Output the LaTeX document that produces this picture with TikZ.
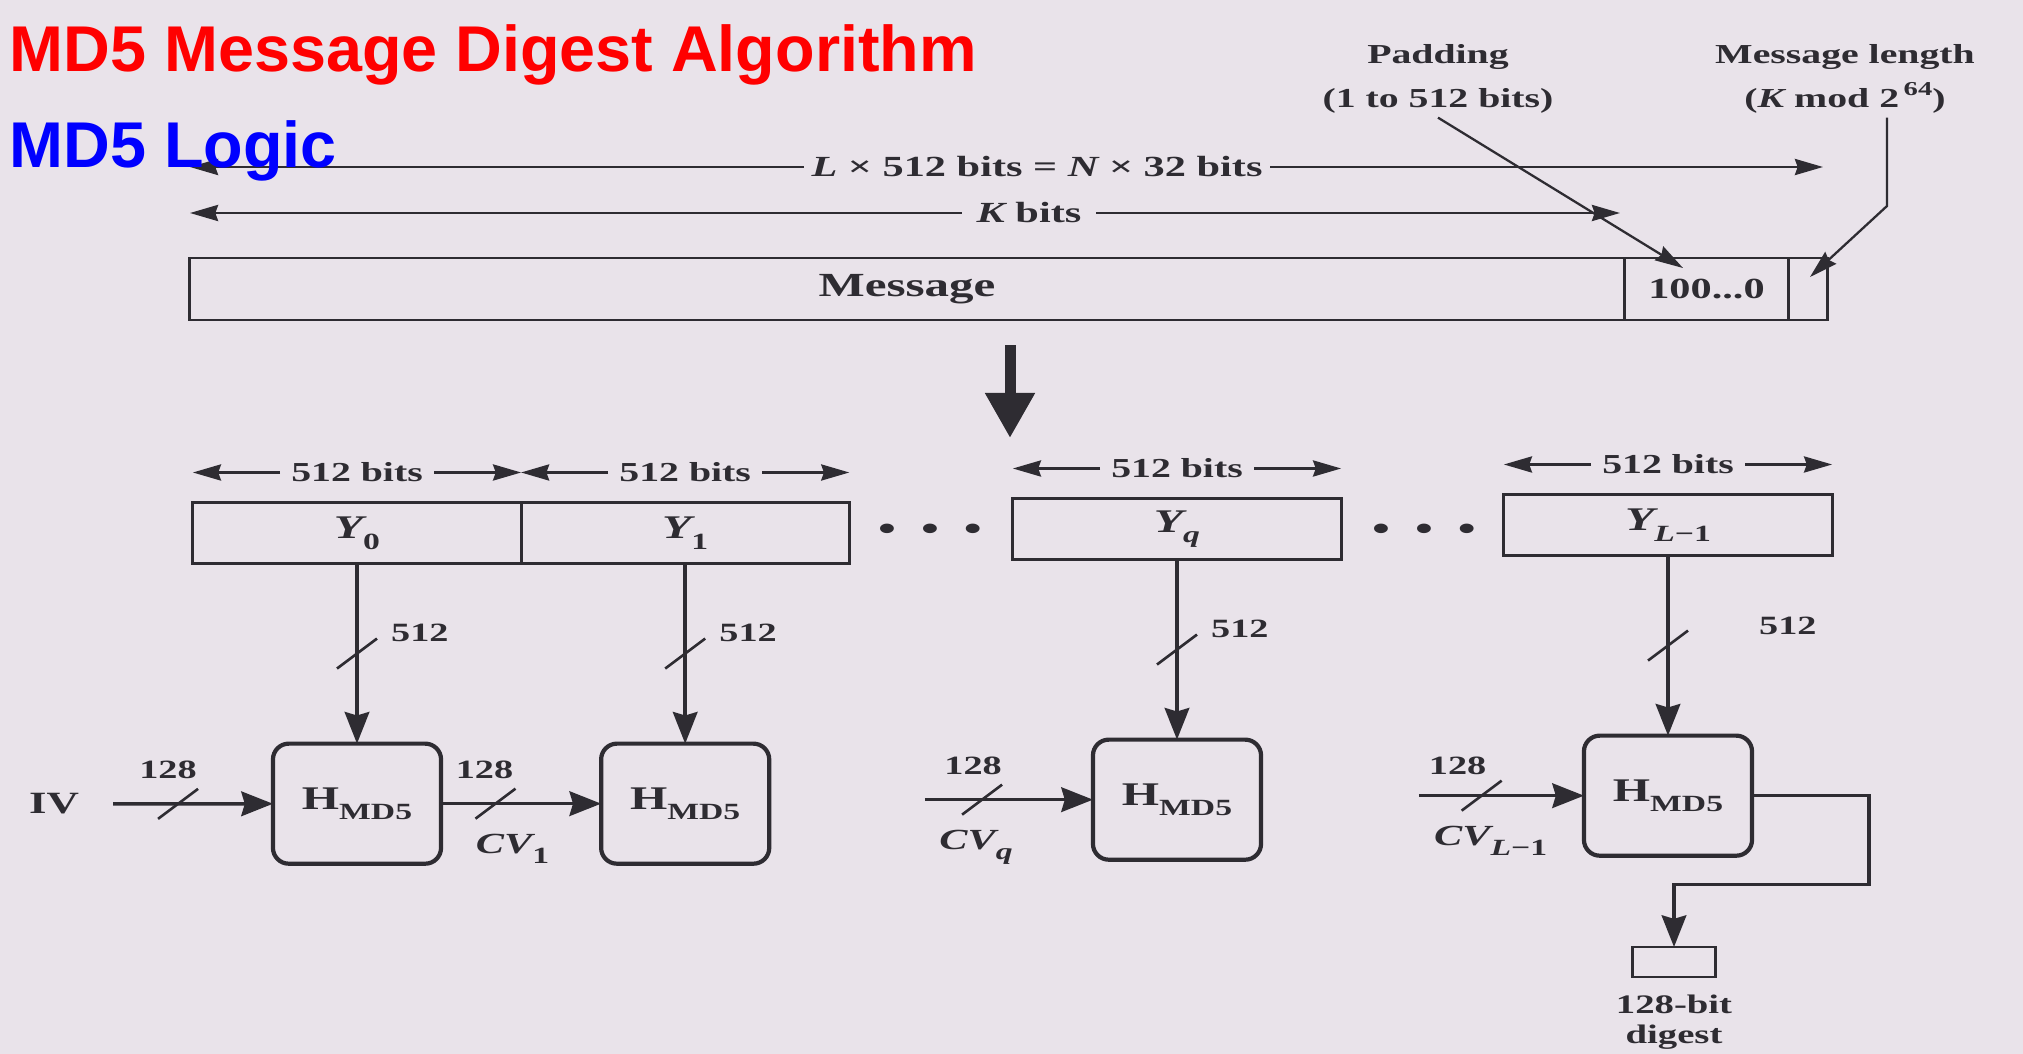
\documentclass[tikz,border=0pt]{standalone}
\usepackage{fontspec}
\usepackage{xcolor}
\usepackage{tikz}
\usetikzlibrary{arrows.meta, positioning, calc}
\setmainfont{Liberation Serif}
\newfontfamily\dgfont[FakeStretch=1.45]{Liberation Serif}
\newfontfamily\ttlfont{Liberation Sans}
\definecolor{paper}{RGB}{233,227,234}
\definecolor{ink}{RGB}{46,44,50}
\definecolor{ttlred}{RGB}{255,0,0}
\definecolor{ttlblue}{RGB}{0,0,255}
\newcommand\dsub[1]{\raisebox{-.32em}{\fontsize{6.6pt}{7pt}\selectfont #1}}
\newcommand\dsup[1]{\raisebox{.45em}{\fontsize{5.6pt}{6pt}\selectfont #1}}
\tikzset{
  ttl/.style   ={font=\ttlfont\bfseries\fontsize{18.4pt}{20pt}\selectfont, anchor=base west, inner sep=0pt},
  lbl/.style   ={font=\dgfont\bfseries\fontsize{7.8pt}{12.5pt}\selectfont, text=ink, inner sep=1pt, align=center},
  lbll/.style  ={lbl, font=\dgfont\bfseries\fontsize{8.3pt}{10pt}\selectfont},
  lbls/.style  ={lbl, font=\dgfont\bfseries\fontsize{7.5pt}{9pt}\selectfont},
  cell/.style  ={draw=ink, line width=.75pt, minimum height=.62cm, inner sep=0pt, outer sep=0pt,
                 text=ink, font=\dgfont\bfseries\fontsize{9.6pt}{11pt}\selectfont},
  ybox/.style  ={cell, line width=.85pt, minimum width=3.28cm, minimum height=.61cm,
                 font=\dgfont\bfseries\fontsize{9.4pt}{10pt}\selectfont},
  hbox/.style  ={draw=ink, line width=1.2pt, rounded corners=4.5pt, minimum width=1.68cm,
                 minimum height=1.2cm, inner sep=0pt, outer sep=0pt, text=ink,
                 font=\dgfont\bfseries\fontsize{9.4pt}{10pt}\selectfont},
  arr/.style   ={draw=ink, line width=1pt, -{Stealth[length=9pt,width=7pt,inset=1pt]}},
  tarr/.style  ={draw=ink, line width=.65pt, -{Stealth[length=8pt,width=4.6pt,inset=.8pt]}},
  bigarr/.style={draw=ink, line width=.11cm, -{Triangle[length=.45cm,width=.47cm]}},
  cut/.style   ={draw=ink, line width=.75pt},
}
\begin{document}
\begin{tikzpicture}[x=.01cm, y=-.01cm]
\useasboundingbox[fill=paper] (0,0) rectangle (2023,1054);

\node[lbll, inner xsep=2pt] (lenall) at (1037,167) {{\itshape L} × 512 bits = {\itshape N} × 32 bits};
\coordinate (la) at (190,167); \coordinate (lb) at (1823,167);
\draw[tarr] (lenall) -- (la); \draw[tarr] (lenall) -- (lb);
\node[lbll, inner xsep=4pt] (kbits) at (1029,213) {{\itshape K} bits};
\coordinate (ka) at (190,213); \coordinate (kb) at (1620,213);
\draw[tarr] (kbits) -- (ka); \draw[tarr] (kbits) -- (kb);

\node[cell, minimum width=14.34cm] (msg) at (907,289) {Message};
\node[cell, minimum width=1.64cm, right=0pt of msg, font=\dgfont\bfseries\fontsize{8.3pt}{10pt}\selectfont] (pad) {100...0};
\node[cell, minimum width=.39cm, right=0pt of pad] (lenc) {};

\node[lbl] (padtxt) at (1438,79) {Padding\\(1 to 512 bits)};
\coordinate (padtip) at (1683,268);
\draw[tarr] (padtxt.south) -- (padtip);
\node[lbl] (lentxt) at (1845,79) {Message length\\({\itshape K} mod 2\,\dsup{64})};
\coordinate (lenbend) at (1887,206); \coordinate (lentip) at (1810,277);
\draw[tarr] (lentxt.south -| lenbend) -- (lenbend) -- (lentip);

\coordinate (downa) at (1010,345); \coordinate (downb) at (1010,438);
\draw[bigarr] (downa) -- (downb);

\node[ybox] (y0) at (357,533) {{\itshape Y}\dsub{0}};
\node[ybox, right=0pt of y0] (y1) {{\itshape Y}\dsub{1}};
\node[ybox] (yq) at (1177,529) {{\itshape Y}\dsub{\itshape q}};
\node[ybox] (yl) at (1668,525) {{\itshape Y}\dsub{{\itshape L}−1}};
\node[lbl, font=\dgfont\bfseries\fontsize{10pt}{10pt}\selectfont] (dotsa) at (930,532) {•\hspace{.25cm}•\hspace{.25cm}•};
\node[lbl, font=\dgfont\bfseries\fontsize{10pt}{10pt}\selectfont] (dotsb) at (1424,532) {•\hspace{.25cm}•\hspace{.25cm}•};

\foreach \b in {y0,y1,yq,yl}{
  \node[lbl, inner xsep=3pt] (d\b) at ($(\b.north)+(0,-30)$) {512 bits};
  \draw[tarr] (d\b) -- (d\b -| \b.west);
  \draw[tarr] (d\b) -- (d\b -| \b.east);
}

\node[hbox, below=1.8cm of y0] (h0) {H\dsub{MD5}};
\node[hbox, below=1.8cm of y1] (h1) {H\dsub{MD5}};
\node[hbox, below=1.8cm of yq] (hq) {H\dsub{MD5}};
\node[hbox, below=1.8cm of yl] (hl) {H\dsub{MD5}};

\foreach \b/\h in {y0/h0, y1/h1, yq/hq, yl/hl}{
  \draw[arr] (\b) -- coordinate[pos=.5] (s\h) (\h);
  \draw[cut] (s\h) ++(-20,15) -- ++(40,-30);
}
\node[lbls, anchor=base west] (n0) at ($(sh0)+(30,-12)$) {512};
\node[lbls, anchor=base west] (n1) at ($(sh1)+(30,-12)$) {512};
\node[lbls, anchor=base west] (nq) at ($(shq)+(30,-12)$) {512};
\node[lbls, anchor=base west] (nl) at ($(shl)+(87,-11)$) {512};

\node[lbl, font=\dgfont\bfseries\fontsize{8.8pt}{9pt}\selectfont] (iv) at (54,804) {IV};
\draw[arr, shorten <=.3cm] (iv) -- coordinate[pos=.5] (siv) (h0);
\draw[cut] (siv) ++(-20,15) -- ++(40,-30);
\node[lbls, anchor=base] (w0) at ($(siv)+(-10,-25)$) {128};

\draw[arr] (h0) -- coordinate[pos=.34] (s01) (h1);
\draw[cut] (s01) ++(-20,15) -- ++(40,-30);
\node[lbls, anchor=base] (w1) at ($(s01)+(-11,-25)$) {128};
\node[lbll, anchor=base] (cv1) at ($(s01)+(17,50)$) {{\itshape CV}\dsub{1}};

\coordinate (cq) at ($(hq.west)+(-168,0)$);
\draw[arr] (cq) -- coordinate[pos=.34] (sq) (hq);
\draw[cut] (sq) ++(-20,15) -- ++(40,-30);
\node[lbls, anchor=base] (wq) at ($(sq)+(-9,-25)$) {128};
\node[lbll, anchor=base] (cvq) at ($(sq)+(-6,50)$) {{\itshape CV}\dsub{\itshape q}};

\coordinate (cl) at ($(hl.west)+(-165,0)$);
\draw[arr] (cl) -- coordinate[pos=.38] (sl) (hl);
\draw[cut] (sl) ++(-20,15) -- ++(40,-30);
\node[lbls, anchor=base] (wl) at ($(sl)+(-24,-21)$) {128};
\node[lbll, anchor=base] (cvl) at ($(sl)+(9,50)$) {{\itshape CV}\dsub{{\itshape L}−1}};

\node[draw=ink, line width=.8pt, minimum width=.83cm, minimum height=.3cm, inner sep=0pt, outer sep=0pt] (dig) at (1674,962) {};
\draw[arr] (hl.east) -- ++(117,0) -- ++(0,89) -| (dig.north);
\node[lbl, below=4pt of dig, font=\dgfont\bfseries\fontsize{7.6pt}{8.5pt}\selectfont] (digtxt) {128-bit\\digest};

\node[ttl, text=ttlred] (title) at (9,71) {MD5 Message Digest Algorithm};
\node[ttl, text=ttlblue] (subtitle) at (9,167) {MD5 Logic};
\end{tikzpicture}
\end{document}
